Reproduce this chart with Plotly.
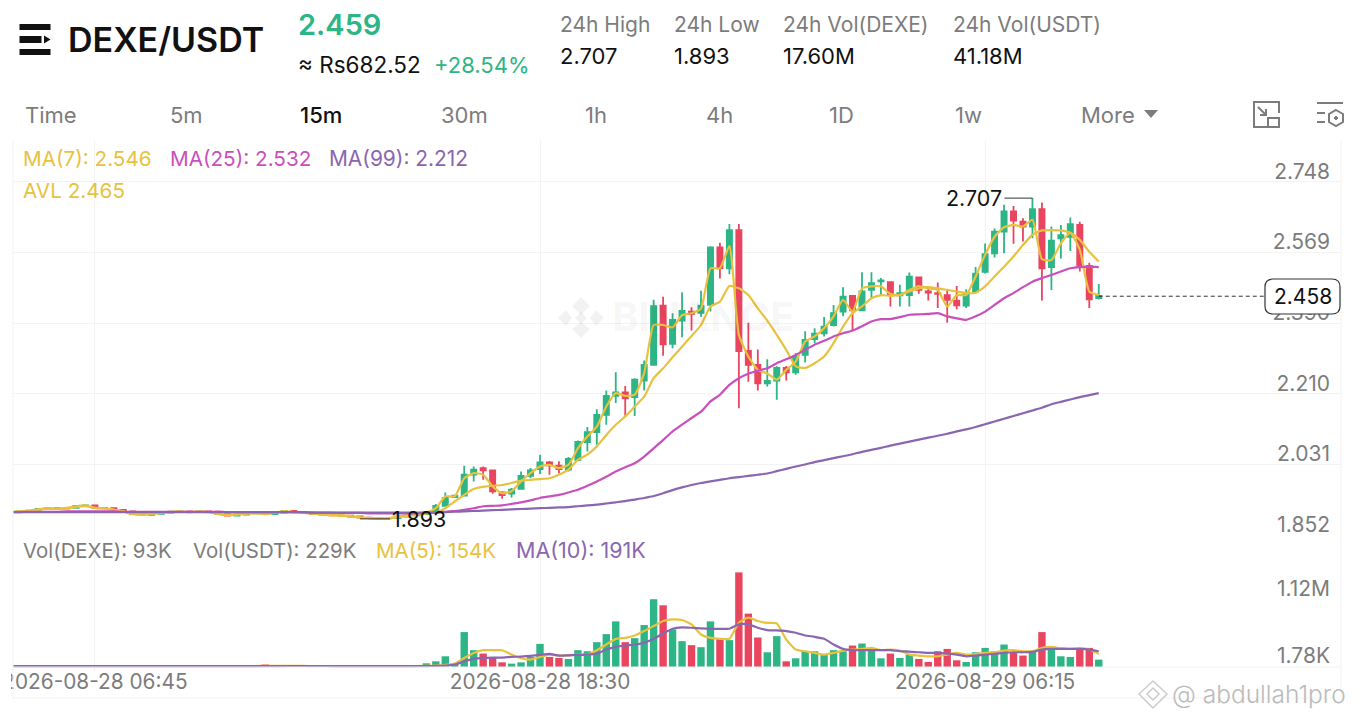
import pandas as pd
import plotly.graph_objs as go

# 15 minute candles, 2026-08-28 04:30 to 2026-08-29 09:15
times = pd.date_range('2026-08-28 04:30', periods=116, freq='15min')

opens = [
    1.909, 1.910, 1.912, 1.914, 1.918, 1.920, 1.919, 1.921, 1.926, 1.927,
    1.921, 1.920, 1.916, 1.912, 1.905, 1.903, 1.906, 1.909, 1.911, 1.912,
    1.910, 1.912, 1.911, 1.905, 1.901, 1.904, 1.907, 1.908, 1.905, 1.909,
    1.913, 1.910, 1.909, 1.906, 1.904, 1.902, 1.901, 1.899, 1.896, 1.895,
    1.894, 1.895, 1.899, 1.902, 1.905, 1.912, 1.926, 1.948, 1.952, 2.005,
    2.022, 2.016, 1.960, 1.957, 1.969, 2.002, 2.019, 2.036, 2.028, 2.018,
    2.043, 2.088, 2.113, 2.157, 2.205, 2.214, 2.202, 2.244, 2.284, 2.434,
    2.337, 2.396, 2.419, 2.416, 2.436, 2.582, 2.529, 2.626, 2.319, 2.284,
    2.237, 2.244, 2.276, 2.265, 2.309, 2.349, 2.364, 2.385, 2.419, 2.459,
    2.422, 2.474, 2.496, 2.494, 2.460, 2.461, 2.506, 2.470, 2.466, 2.461,
    2.447, 2.434, 2.470, 2.520, 2.567, 2.622, 2.673, 2.647, 2.635, 2.679,
    2.532, 2.605, 2.609, 2.639, 2.535, 2.453,
]
highs = [
    1.912, 1.913, 1.915, 1.919, 1.921, 1.921, 1.922, 1.927, 1.929, 1.928,
    1.922, 1.921, 1.917, 1.913, 1.906, 1.907, 1.910, 1.912, 1.913, 1.913,
    1.913, 1.913, 1.912, 1.906, 1.905, 1.908, 1.909, 1.909, 1.910, 1.914,
    1.914, 1.911, 1.910, 1.907, 1.905, 1.903, 1.902, 1.900, 1.897, 1.896,
    1.896, 1.900, 1.903, 1.906, 1.911, 1.931, 1.960, 1.954, 2.028, 2.026,
    2.026, 2.016, 1.963, 1.971, 2.013, 2.022, 2.056, 2.040, 2.039, 2.050,
    2.092, 2.126, 2.171, 2.219, 2.265, 2.230, 2.250, 2.295, 2.449, 2.457,
    2.415, 2.468, 2.430, 2.472, 2.585, 2.594, 2.641, 2.641, 2.391, 2.323,
    2.298, 2.280, 2.281, 2.314, 2.369, 2.377, 2.405, 2.436, 2.481, 2.461,
    2.519, 2.519, 2.504, 2.495, 2.487, 2.518, 2.508, 2.483, 2.493, 2.474,
    2.484, 2.476, 2.532, 2.592, 2.630, 2.690, 2.687, 2.656, 2.707, 2.696,
    2.635, 2.639, 2.658, 2.647, 2.543, 2.489,
]
lows = [
    1.908, 1.909, 1.911, 1.913, 1.917, 1.918, 1.918, 1.920, 1.925, 1.920,
    1.919, 1.915, 1.911, 1.904, 1.902, 1.902, 1.905, 1.908, 1.910, 1.909,
    1.909, 1.910, 1.904, 1.900, 1.900, 1.903, 1.906, 1.904, 1.904, 1.908,
    1.909, 1.908, 1.905, 1.903, 1.901, 1.900, 1.898, 1.895, 1.894, 1.893,
    1.894, 1.894, 1.898, 1.901, 1.904, 1.909, 1.925, 1.946, 1.950, 1.988,
    1.992, 1.957, 1.944, 1.947, 1.967, 1.996, 2.007, 2.005, 2.009, 2.013,
    2.039, 2.064, 2.081, 2.132, 2.187, 2.153, 2.154, 2.219, 2.282, 2.307,
    2.326, 2.354, 2.371, 2.406, 2.419, 2.503, 2.514, 2.174, 2.241, 2.219,
    2.229, 2.195, 2.244, 2.259, 2.290, 2.339, 2.356, 2.381, 2.407, 2.369,
    2.422, 2.453, 2.461, 2.432, 2.432, 2.432, 2.464, 2.447, 2.428, 2.391,
    2.425, 2.428, 2.466, 2.516, 2.556, 2.567, 2.591, 2.597, 2.605, 2.447,
    2.474, 2.554, 2.573, 2.521, 2.428, 2.450,
]
closes = [
    1.910, 1.912, 1.914, 1.918, 1.920, 1.919, 1.921, 1.926, 1.927, 1.921,
    1.920, 1.916, 1.912, 1.905, 1.903, 1.906, 1.909, 1.911, 1.912, 1.910,
    1.912, 1.911, 1.905, 1.901, 1.904, 1.907, 1.908, 1.905, 1.909, 1.913,
    1.910, 1.909, 1.906, 1.904, 1.902, 1.901, 1.899, 1.896, 1.895, 1.894,
    1.895, 1.899, 1.902, 1.905, 1.910, 1.926, 1.946, 1.952, 2.005, 2.018,
    2.016, 1.963, 1.953, 1.967, 2.002, 2.016, 2.036, 2.029, 2.019, 2.045,
    2.088, 2.113, 2.157, 2.205, 2.214, 2.199, 2.246, 2.284, 2.433, 2.336,
    2.398, 2.421, 2.413, 2.434, 2.582, 2.529, 2.626, 2.319, 2.284, 2.237,
    2.243, 2.276, 2.265, 2.305, 2.347, 2.363, 2.381, 2.415, 2.457, 2.422,
    2.470, 2.491, 2.498, 2.461, 2.466, 2.508, 2.474, 2.467, 2.464, 2.449,
    2.435, 2.466, 2.515, 2.565, 2.622, 2.673, 2.650, 2.635, 2.679, 2.529,
    2.599, 2.613, 2.641, 2.535, 2.450, 2.459,
]

# the fast yellow line, the one marked AVL
avl = [
    1.910, 1.912, 1.914, 1.917, 1.920, 1.919, 1.921, 1.925, 1.927, 1.921,
    1.920, 1.916, 1.912, 1.905, 1.903, 1.906, 1.909, 1.911, 1.912, 1.910,
    1.912, 1.911, 1.905, 1.902, 1.904, 1.907, 1.908, 1.905, 1.909, 1.913,
    1.910, 1.909, 1.906, 1.904, 1.902, 1.901, 1.899, 1.896, 1.895, 1.894,
    1.895, 1.899, 1.902, 1.905, 1.908, 1.920, 1.950, 1.950, 1.996, 2.009,
    2.005, 1.975, 1.958, 1.963, 1.988, 2.009, 2.026, 2.030, 2.022, 2.030,
    2.072, 2.102, 2.127, 2.178, 2.212, 2.205, 2.208, 2.263, 2.385, 2.385,
    2.379, 2.410, 2.415, 2.427, 2.529, 2.529, 2.585, 2.360, 2.305, 2.271,
    2.262, 2.246, 2.271, 2.292, 2.343, 2.356, 2.377, 2.407, 2.449, 2.419,
    2.478, 2.483, 2.483, 2.464, 2.461, 2.474, 2.484, 2.478, 2.474, 2.432,
    2.461, 2.461, 2.508, 2.563, 2.609, 2.633, 2.639, 2.635, 2.652, 2.552,
    2.550, 2.592, 2.619, 2.576, 2.470, 2.461,
]
ma7 = [
    1.910, 1.911, 1.912, 1.916, 1.918, 1.918, 1.919, 1.923, 1.925, 1.921,
    1.919, 1.916, 1.912, 1.906, 1.904, 1.906, 1.908, 1.910, 1.911, 1.910,
    1.911, 1.910, 1.906, 1.903, 1.904, 1.906, 1.907, 1.906, 1.908, 1.911,
    1.910, 1.909, 1.907, 1.905, 1.903, 1.902, 1.900, 1.897, 1.895, 1.894,
    1.894, 1.897, 1.900, 1.903, 1.907, 1.909, 1.920, 1.937, 1.954, 1.969,
    1.974, 1.977, 1.979, 1.984, 1.990, 1.992, 1.994, 1.996, 2.005, 2.018,
    2.043, 2.056, 2.077, 2.106, 2.132, 2.153, 2.178, 2.203, 2.250, 2.275,
    2.303, 2.330, 2.357, 2.385, 2.432, 2.444, 2.484, 2.478, 2.461, 2.427,
    2.396, 2.360, 2.322, 2.280, 2.276, 2.288, 2.305, 2.339, 2.381, 2.415,
    2.432, 2.453, 2.461, 2.459, 2.461, 2.470, 2.478, 2.481, 2.478, 2.474,
    2.470, 2.466, 2.467, 2.483, 2.508, 2.533, 2.559, 2.588, 2.614, 2.625,
    2.626, 2.625, 2.619, 2.601, 2.571, 2.546,
]
ma25 = [
    1.910, 1.910, 1.911, 1.911, 1.911, 1.911, 1.912, 1.912, 1.912, 1.912,
    1.912, 1.912, 1.911, 1.911, 1.911, 1.911, 1.911, 1.911, 1.911, 1.911,
    1.911, 1.911, 1.911, 1.910, 1.910, 1.910, 1.910, 1.910, 1.910, 1.910,
    1.910, 1.910, 1.909, 1.909, 1.909, 1.908, 1.908, 1.908, 1.907, 1.907,
    1.907, 1.907, 1.907, 1.907, 1.908, 1.909, 1.911, 1.913, 1.916, 1.920,
    1.925, 1.926, 1.927, 1.931, 1.935, 1.940, 1.946, 1.950, 1.954, 1.960,
    1.967, 1.977, 1.988, 2.000, 2.013, 2.024, 2.034, 2.051, 2.072, 2.093,
    2.115, 2.132, 2.149, 2.165, 2.191, 2.208, 2.233, 2.250, 2.261, 2.269,
    2.275, 2.288, 2.298, 2.309, 2.322, 2.335, 2.345, 2.356, 2.364, 2.371,
    2.382, 2.394, 2.400, 2.400, 2.405, 2.411, 2.412, 2.413, 2.415, 2.407,
    2.402, 2.398, 2.407, 2.419, 2.436, 2.453, 2.466, 2.481, 2.495, 2.504,
    2.512, 2.521, 2.529, 2.532, 2.533, 2.532,
]
ma99 = [
    1.910, 1.910, 1.910, 1.910, 1.910, 1.910, 1.910, 1.910, 1.910, 1.910,
    1.910, 1.910, 1.910, 1.910, 1.910, 1.910, 1.910, 1.910, 1.910, 1.910,
    1.910, 1.910, 1.910, 1.910, 1.910, 1.910, 1.910, 1.910, 1.910, 1.910,
    1.910, 1.910, 1.909, 1.909, 1.909, 1.909, 1.909, 1.909, 1.909, 1.909,
    1.909, 1.909, 1.909, 1.909, 1.909, 1.909, 1.910, 1.911, 1.912, 1.913,
    1.914, 1.915, 1.916, 1.917, 1.918, 1.919, 1.920, 1.921, 1.922, 1.923,
    1.925, 1.927, 1.929, 1.932, 1.935, 1.938, 1.942, 1.946, 1.951, 1.958,
    1.966, 1.973, 1.979, 1.984, 1.988, 1.992, 1.996, 1.999, 2.002, 2.005,
    2.008, 2.014, 2.020, 2.026, 2.031, 2.037, 2.042, 2.047, 2.052, 2.057,
    2.063, 2.068, 2.073, 2.079, 2.084, 2.089, 2.094, 2.099, 2.104, 2.109,
    2.115, 2.120, 2.126, 2.133, 2.140, 2.147, 2.154, 2.161, 2.168, 2.175,
    2.184, 2.190, 2.196, 2.202, 2.207, 2.212,
]

volumes = [
    14000, 12000, 16000, 13000, 15000, 18000, 14000, 12000, 16000, 14000,
    13000, 15000, 17000, 12000, 14000, 16000, 13000, 12000, 15000, 14000,
    12000, 13000, 16000, 14000, 12000, 15000, 18000, 42000, 14000, 12000,
    13000, 15000, 12000, 14000, 16000, 13000, 15000, 12000, 14000, 13000,
    12000, 14000, 18000, 32000, 62000, 96000, 181000, 68000, 590000, 284000,
    227000, 153000, 79000, 57000, 79000, 170000, 391000, 170000, 153000, 136000,
    284000, 266000, 420000, 556000, 771000, 420000, 488000, 709000, 1145000, 1043000,
    635000, 437000, 369000, 335000, 771000, 476000, 454000, 1599000, 902000, 499000,
    249000, 522000, 96000, 147000, 266000, 266000, 210000, 284000, 266000, 363000,
    397000, 306000, 147000, 227000, 153000, 210000, 136000, 85000, 266000, 306000,
    113000, 85000, 249000, 323000, 266000, 380000, 238000, 193000, 255000, 590000,
    352000, 181000, 170000, 295000, 323000, 125000,
]
vol_ma5 = [
    14000, 14000, 14000, 14000, 14000, 15000, 15000, 14000, 15000, 15000,
    14000, 14000, 15000, 14000, 14000, 15000, 14000, 14000, 14000, 14000,
    14000, 14000, 14000, 14000, 14000, 14000, 15000, 20000, 20000, 20000,
    19000, 18000, 14000, 14000, 14000, 14000, 14000, 14000, 14000, 14000,
    14000, 14000, 14000, 17000, 20000, 23000, 34000, 57000, 153000, 238000,
    284000, 284000, 284000, 210000, 147000, 125000, 170000, 210000, 193000, 198000,
    210000, 210000, 284000, 380000, 476000, 493000, 533000, 607000, 692000, 777000,
    805000, 794000, 720000, 550000, 493000, 476000, 476000, 748000, 833000, 777000,
    745000, 737000, 465000, 295000, 266000, 238000, 210000, 238000, 278000, 295000,
    306000, 323000, 284000, 295000, 278000, 210000, 193000, 181000, 181000, 210000,
    238000, 210000, 221000, 238000, 249000, 278000, 284000, 266000, 266000, 323000,
    340000, 318000, 306000, 318000, 295000, 221000,
]
vol_ma10 = [
    14000, 14000, 14000, 14000, 14000, 14000, 14000, 14000, 14000, 14000,
    14000, 14000, 14000, 14000, 14000, 14000, 14000, 14000, 14000, 14000,
    14000, 14000, 14000, 14000, 14000, 14000, 14000, 16000, 16000, 16000,
    17000, 17000, 17000, 17000, 16000, 15000, 14000, 14000, 14000, 14000,
    14000, 14000, 14000, 15000, 16000, 18000, 23000, 40000, 96000, 136000,
    153000, 159000, 159000, 170000, 176000, 187000, 204000, 221000, 193000, 198000,
    204000, 210000, 227000, 295000, 340000, 363000, 380000, 408000, 476000, 567000,
    646000, 669000, 663000, 652000, 646000, 646000, 646000, 720000, 720000, 663000,
    624000, 618000, 607000, 578000, 533000, 510000, 476000, 380000, 306000, 284000,
    284000, 284000, 284000, 284000, 266000, 261000, 249000, 238000, 238000, 227000,
    210000, 181000, 193000, 210000, 221000, 238000, 249000, 249000, 255000, 295000,
    306000, 306000, 306000, 306000, 295000, 266000,
]

price_ticks = [1.852, 2.031, 2.210, 2.390, 2.569, 2.748]
price_labels = ['1.852', '2.031', '2.210', '2.390', '2.569', '2.748']
volume_ticks = [1780, 1120000]
volume_labels = ['1.78K', '1.12M']
date_ticks = ['2026-08-28 06:45', '2026-08-28 18:30', '2026-08-29 06:15']

GREEN = '#2DB585'
RED = '#E9455F'
YELLOW = '#E8C23E'
PINK = '#C950BC'
PURPLE = '#8A66B0'
GREY = '#7C7C7C'
BLACK = '#111111'
GRID = '#F3F3F3'
FONT = 'Inter'
W, H = 1357, 719


def px(x):
    return x / W


def py(y):
    return 1 - y / H


def label(text, x, y, size=20, color=GREY, weight=400, anchor='left'):
    # annotations sit about 2px right of the given spot, take that back here
    return dict(text=text, x=px(x - 2 if anchor == 'left' else x), y=py(y), xref='paper', yref='paper', showarrow=False,
                xanchor=anchor, yanchor='middle', font=dict(family=FONT, size=size, color=color, weight=weight))


def box(x0, y0, x1, y1, color, filled=True):
    return dict(type='rect', xref='paper', yref='paper', x0=px(x0), x1=px(x1), y0=py(y0), y1=py(y1),
                fillcolor=color if filled else 'rgba(0,0,0,0)', line=dict(width=0))


def path(points, color=GREY, width=2, fill=None, closed=False):
    d = 'M ' + ' L '.join(f'{px(a):.5f} {py(b):.5f}' for a, b in points) + (' Z' if closed else '')
    return dict(type='path', xref='paper', yref='paper', path=d, line=dict(color=color, width=width),
                fillcolor=fill if fill else 'rgba(0,0,0,0)')


candles = go.Candlestick(
    x=times, open=opens, high=highs, low=lows, close=closes,
    increasing=dict(line=dict(color=GREEN, width=1.8), fillcolor=GREEN),
    decreasing=dict(line=dict(color=RED, width=1.8), fillcolor=RED),
    whiskerwidth=0, showlegend=False, hoverinfo='skip',
)


def line(values, color, axis='y', width=2.2):
    return go.Scatter(x=times, y=values, mode='lines', yaxis=axis, showlegend=False, hoverinfo='skip',
                      line=dict(color=color, width=width, shape='spline', smoothing=0.5))


bars = go.Bar(
    x=times, y=volumes, yaxis='y2', showlegend=False, hoverinfo='skip',
    marker=dict(color=[GREEN if c >= o else RED for o, c in zip(opens, closes)], line=dict(width=0)),
)

data = [candles, line(avl, YELLOW), line(ma7, YELLOW), line(ma25, PINK), line(ma99, PURPLE),
        bars, line(vol_ma5, YELLOW, 'y2'), line(vol_ma10, PURPLE, 'y2')]

annotations = [
    label('DEXE/USDT', 68, 40, 34, BLACK, 600),
    label('2.459', 298, 24, 29, GREEN, 600),
    label('≈ Rs682.52', 298, 65, 22.5, BLACK),
    label('+28.54%', 434, 65, 22, GREEN),
    label('24h High', 560, 24, 21),
    label('2.707', 560, 56, 22, BLACK),
    label('24h Low', 674, 24, 21),
    label('1.893', 674, 56, 22, BLACK),
    label('24h Vol(DEXE)', 783, 24, 21),
    label('17.60M', 783, 56, 22, BLACK),
    label('24h Vol(USDT)', 953, 24, 21),
    label('41.18M', 953, 56, 22, BLACK),
    label('Time', 25, 115, 22),
    label('5m', 170, 115, 22),
    label('15m', 300, 115, 22, BLACK, 500),
    label('30m', 441, 115, 22),
    label('1h', 585, 115, 22),
    label('4h', 706, 115, 22),
    label('1D', 829, 115, 22),
    label('1w', 955, 115, 22),
    label('More', 1081, 115, 22),
    label('MA(7): 2.546', 23, 158, 20.7, YELLOW),
    label('MA(25): 2.532', 170, 158, 20.7, PINK),
    label('MA(99): 2.212', 329, 158, 20.9, PURPLE),
    label('AVL 2.465', 23, 190, 20.7, YELLOW),
    label('Vol(DEXE): 93K', 23, 550, 20.4),
    label('Vol(USDT): 229K', 193, 550, 20.4),
    label('MA(5): 154K', 376, 550, 20.6, YELLOW),
    label('MA(10): 191K', 516, 550, 21.5, PURPLE),
    label('BINANCE', 612, 316, 40, 'rgba(0,0,0,0.055)', 700),
    label('2.458', 1303, 296, 21, BLACK, anchor='center'),
    label('@ abdullah1pro', 1172, 694, 24.5, '#BBBBBB', 300),
    dict(text='2.707', x=times[108], y=2.707, xref='x', yref='y', ax=-28, ay=0, xanchor='right',
         showarrow=True, arrowhead=0, arrowwidth=1, arrowcolor='#333333',
         font=dict(family=FONT, size=21.5, color=BLACK)),
    dict(text='1.893', x=times[37], y=1.893, xref='x', yref='y', ax=30, ay=0, xanchor='left',
         showarrow=True, arrowhead=0, arrowwidth=1, arrowcolor='#333333',
         font=dict(family=FONT, size=21.5, color=BLACK)),
]

rounded = ('M {:.5f} {:.5f} L {:.5f} {:.5f} Q {:.5f} {:.5f} {:.5f} {:.5f} L {:.5f} {:.5f} Q {:.5f} {:.5f} {:.5f} {:.5f} '
           'L {:.5f} {:.5f} Q {:.5f} {:.5f} {:.5f} {:.5f} L {:.5f} {:.5f} Q {:.5f} {:.5f} {:.5f} {:.5f} Z').format(
    px(1273), py(279), px(1332), py(279), px(1340), py(279), px(1340), py(287),
    px(1340), py(306), px(1340), py(314), px(1332), py(314), px(1273), py(314),
    px(1265), py(314), px(1265), py(306), px(1265), py(287), px(1265), py(279), px(1273), py(279))

shapes = [
    # frame lines
    dict(type='line', xref='paper', yref='paper', x0=px(13), x1=px(13), y0=py(140), y1=py(698), line=dict(color=GRID, width=1)),
    dict(type='line', xref='paper', yref='paper', x0=px(1341), x1=px(1341), y0=py(140), y1=py(698), line=dict(color=GRID, width=1)),
    dict(type='line', xref='paper', yref='paper', x0=px(13), x1=px(1341), y0=py(698), y1=py(698), line=dict(color=GRID, width=1)),
    dict(type='line', xref='paper', yref='paper', x0=px(13), x1=px(1341), y0=py(667), y1=py(667), line=dict(color=GRID, width=1)),
    # the first date label is cut by the left edge of the chart
    box(0, 672, 11, 695, 'white'),
    # header logo
    box(19.5, 24, 50.5, 30, BLACK),
    box(19.5, 36, 41.5, 43, BLACK),
    box(19.5, 49, 50.5, 55, BLACK),
    path([(44, 35.5), (50.5, 39.5), (44, 43.5)], BLACK, 0, BLACK, True),
    # More arrow
    path([(1144, 110), (1158, 110), (1151, 118)], GREY, 0, GREY, True),
    # chart icons
    path([(1267, 127), (1254, 127), (1254, 102), (1279, 102), (1279, 113)]),
    dict(type='rect', xref='paper', yref='paper', x0=px(1268), x1=px(1279), y0=py(118), y1=py(127), line=dict(color=GREY, width=2)),
    path([(1258, 107), (1266, 115)]),
    path([(1260, 115), (1266, 115), (1266, 109)]),
    path([(1317, 103), (1343, 103)]),
    path([(1317, 113), (1325, 113)]),
    path([(1317, 122), (1325, 122)]),
    path([(1336, 110), (1343, 114), (1343, 122), (1336, 126), (1329, 122), (1329, 114)], GREY, 2, None, True),
    path([(1336, 116), (1338, 118), (1336, 120), (1334, 118)], GREY, 1, GREY, True),
    # background diamond logo
    path([(581, 297), (590, 306), (581, 315), (572, 306)], 'rgba(0,0,0,0.05)', 0, 'rgba(0,0,0,0.05)', True),
    path([(581, 312), (587, 318), (581, 324), (575, 318)], 'rgba(0,0,0,0.05)', 0, 'rgba(0,0,0,0.05)', True),
    path([(596, 310), (604, 318), (596, 326), (590, 318)], 'rgba(0,0,0,0.05)', 0, 'rgba(0,0,0,0.05)', True),
    path([(566, 310), (572, 318), (566, 326), (558, 318)], 'rgba(0,0,0,0.05)', 0, 'rgba(0,0,0,0.05)', True),
    path([(572, 329), (581, 338), (590, 329), (581, 322)], 'rgba(0,0,0,0.05)', 0, 'rgba(0,0,0,0.05)', True),
    # corner diamond watermark
    path([(1153, 681), (1167, 694), (1153, 708), (1139, 694)], '#CCCCCC', 1.5, None, True),
    path([(1153, 688), (1159, 694), (1153, 700), (1147, 694)], '#CCCCCC', 1.5, None, True),
    # last price line and tag
    dict(type='line', xref='x', yref='y', x0=times[115], x1=times[115] + pd.Timedelta(minutes=262), y0=2.458, y1=2.458,
         line=dict(color='#333333', width=1, dash='4px,3px')),
    dict(type='path', xref='paper', yref='paper', path=rounded, fillcolor='white', line=dict(color='#333333', width=1.2)),
]

layout = go.Layout(
    width=W, height=H, margin=dict(l=0, r=0, t=0, b=0),
    paper_bgcolor='white', plot_bgcolor='white',
    font=dict(family=FONT, color=GREY),
    bargap=0.22, boxgap=0.22,
    xaxis=dict(
        domain=[px(13), px(1341)], anchor='y2', type='date', automargin=False,
        range=['2026-08-28 04:35:18', '2026-08-29 15:38:42'],
        rangeslider=dict(visible=False), ticklabelstandoff=-6,
        tickvals=date_ticks, tickformat='%Y-%m-%d %H:%M', tickfont=dict(size=20.8, color=GREY),
        showgrid=True, gridcolor=GRID, gridwidth=1, zeroline=False, showline=False, ticks='',
    ),
    # both panels run 6px below their lowest tick, else plotly drops that shifted label
    yaxis=dict(
        domain=[py(541), py(140)], anchor='x', side='right', automargin=False,
        range=[1.8368, 2.8545], tickvals=price_ticks, ticktext=price_labels,
        ticklabelposition='inside top', ticks='', ticklabelstandoff=8, ticklabelshift=4,
        tickfont=dict(size=21, color=GREY), showgrid=True, gridcolor=GRID, gridwidth=1, zeroline=False,
    ),
    yaxis2=dict(
        domain=[py(673), py(535)], anchor='x', side='right', automargin=False,
        range=[-101400, 2231000], tickvals=volume_ticks, ticktext=volume_labels,
        ticklabelposition='inside top', ticks='', ticklabelstandoff=8, ticklabelshift=3,
        tickfont=dict(size=21, color=GREY), showgrid=False, zeroline=False,
    ),
    annotations=annotations, shapes=shapes,
)

fig = go.Figure(data=data, layout=layout)
fig.write_html('out.html', config=dict(displayModeBar=False), post_script="document.body.style.margin='0';")
